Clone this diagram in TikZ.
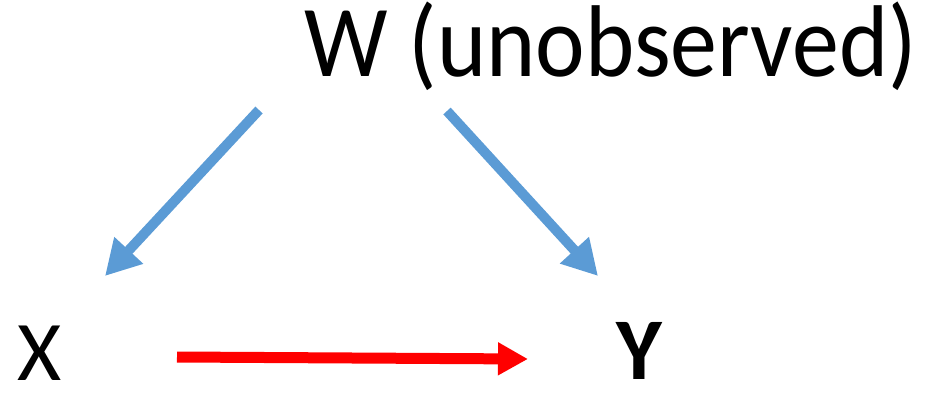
\documentclass[tikz,border=0pt]{standalone}
\usepackage{fontspec}
\setmainfont{Carlito}
\usetikzlibrary{arrows.meta}
\definecolor{causeblue}{RGB}{91,155,213}
\definecolor{effectred}{RGB}{255,0,0}
\begin{document}
\begin{tikzpicture}[x=1pt,y=-1pt,
  varlabel/.style={inner sep=0pt,outer sep=0pt},
  bluearrow/.style={draw=causeblue,line width=10pt,
    -{Triangle[length=35pt,width=37pt]}},
  redarrow/.style={draw=effectred,line width=11pt,
    -{Triangle[length=30pt,width=31pt]}}]
\useasboundingbox (0,0) rectangle (934,393);
% variables
\node[varlabel,anchor=base west,font=\fontsize{102}{102}\selectfont] (W) at (304,77) {\scalebox{0.92}[1]{W (unobserved)}};
\node[varlabel,anchor=base west,font=\fontsize{85}{85}\selectfont] (X) at (17,380) {X};
\node[varlabel,anchor=base west,font=\fontsize{88}{88}\selectfont\bfseries] (Y) at (616,379) {Y};
% arrow end points
\coordinate (wl) at (259,110);
\coordinate (xt) at (105,276);
\coordinate (wr) at (447,111);
\coordinate (yt) at (598,276);
\coordinate (xs) at (177,357);
\coordinate (ys) at (528,359);
% edges
\draw[bluearrow] (wl) -- (xt);
\draw[bluearrow] (wr) -- (yt);
\draw[redarrow] (xs) -- (ys);
\end{tikzpicture}
\end{document}
